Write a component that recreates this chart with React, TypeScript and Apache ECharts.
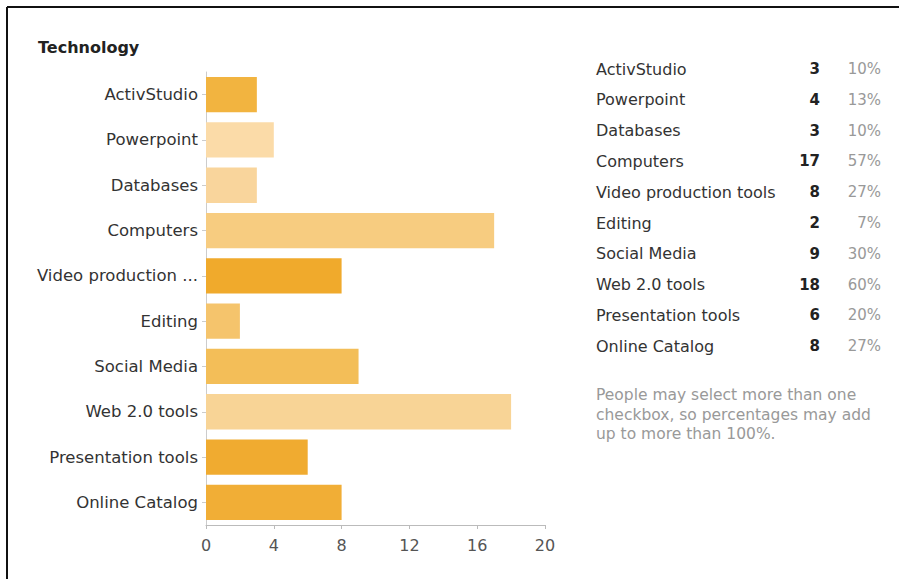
import React, { useEffect, useRef } from "react";
import * as echarts from "echarts";

const title = "Technology";
const categories = [
  "ActivStudio",
  "Powerpoint",
  "Databases",
  "Computers",
  "Video production tools",
  "Editing",
  "Social Media",
  "Web 2.0 tools",
  "Presentation tools",
  "Online Catalog",
];
const counts = [3, 4, 3, 17, 8, 2, 9, 18, 6, 8];
const percents = ["10%", "13%", "10%", "57%", "27%", "7%", "30%", "60%", "20%", "27%"];
const barColors = [
  "#f2b440",
  "#fbdba8",
  "#f9d59c",
  "#f7cc80",
  "#f0aa2c",
  "#f5c46c",
  "#f3be58",
  "#f8d496",
  "#f0ab30",
  "#f1ae36",
];
const xTicks = [0, 4, 8, 12, 16, 20];
const noteLines = [
  "People may select more than one",
  "checkbox, so percentages may add",
  "up to more than 100%.",
];

const FONT = "DejaVu Sans, Liberation Sans, Arial, sans-serif";

export default function App() {
  const ref = useRef<HTMLDivElement>(null);
  useEffect(() => {
    if (!ref.current) return;
    const chart = echarts.init(ref.current, null, { renderer: "svg" });
    const tableEls: any[] = [];
    categories.forEach((c, i) => {
      const y = 69 + i * 30.8;
      tableEls.push({
        type: "text",
        x: 596,
        y,
        style: { text: c, font: `16px ${FONT}`, fill: "#333", textVerticalAlign: "middle" },
      });
      tableEls.push({
        type: "text",
        x: 820,
        y,
        style: {
          text: String(counts[i]),
          font: `bold 15px ${FONT}`,
          fill: "#222",
          textAlign: "right",
          textVerticalAlign: "middle",
        },
      });
      tableEls.push({
        type: "text",
        x: 881,
        y,
        style: {
          text: percents[i],
          font: `15px ${FONT}`,
          fill: "#999",
          textAlign: "right",
          textVerticalAlign: "middle",
        },
      });
    });
    noteLines.forEach((t, i) => {
      tableEls.push({
        type: "text",
        x: 596,
        y: 395 + i * 19.5,
        style: { text: t, font: `15.5px ${FONT}`, fill: "#999", textVerticalAlign: "middle" },
      });
    });
    chart.setOption({
      animation: false,
      backgroundColor: "#ffffff",
      textStyle: { fontFamily: FONT },
      grid: { left: 206, right: 354, top: 72, bottom: 54, containLabel: false },
      xAxis: {
        type: "value",
        min: 0,
        max: 20,
        interval: 4,
        axisLine: { show: true, lineStyle: { color: "#bbb", width: 1 } },
        axisTick: { show: true, length: 4, lineStyle: { color: "#bbb" } },
        splitLine: { show: false },
        axisLabel: {
          color: "#555",
          fontSize: 16,
          fontFamily: FONT,
          margin: 12,
          formatter: (v: number) => (xTicks.includes(v) ? String(v) : ""),
        },
      },
      yAxis: {
        type: "category",
        inverse: true,
        data: categories,
        axisLine: { show: true, lineStyle: { color: "#ccc", width: 1 } },
        axisTick: { show: true, alignWithLabel: true, length: 4, lineStyle: { color: "#ccc" } },
        axisLabel: {
          color: "#333",
          fontSize: 16.5,
          fontFamily: FONT,
          margin: 8,
          formatter: (v: string) => (v.length > 18 ? v.slice(0, 16) + " ..." : v),
        },
      },
      series: [
        {
          type: "bar",
          barCategoryGap: "22%",
          data: counts.map((v, i) => ({ value: v, itemStyle: { color: barColors[i] } })),
        },
      ],
      graphic: [
        {
          type: "text",
          x: 38,
          y: 47,
          style: { text: title, font: `bold 16px ${FONT}`, fill: "#222", textVerticalAlign: "middle" },
        },
        {
          type: "line",
          shape: { x1: 7, y1: 7, x2: 899, y2: 7 },
          style: { stroke: "#111", lineWidth: 2 },
        },
        {
          type: "line",
          shape: { x1: 7, y1: 7, x2: 7, y2: 579 },
          style: { stroke: "#111", lineWidth: 2 },
        },
        ...tableEls,
      ],
    });
    return () => chart.dispose();
  }, []);
  return (
    <div
      ref={ref}
      style={{ position: "absolute", left: 0, top: 0, width: 899, height: 579 }}
    />
  );
}
